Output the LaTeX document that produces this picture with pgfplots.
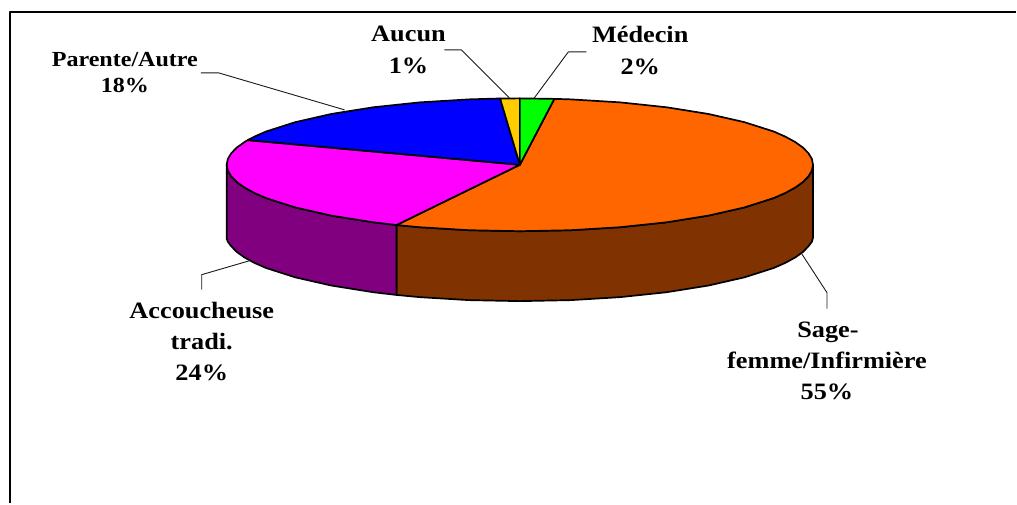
\documentclass[border=0pt]{standalone}
\usepackage{fontspec}
\setmainfont[FakeStretch=1.12]{Liberation Serif}
\usepackage{pgfplots}
\pgfplotsset{compat=1.18}
\definecolor{cgreen}{RGB}{0,255,0}
\definecolor{cyellow}{RGB}{255,204,0}
\definecolor{cblue}{RGB}{0,0,255}
\definecolor{cmag}{RGB}{255,0,255}
\definecolor{cpurple}{RGB}{128,0,128}
\definecolor{corange}{RGB}{255,102,0}
\definecolor{cbrown}{RGB}{128,51,0}
\newcommand{\lab}[1]{{\fontsize{23.5}{24}\selectfont\bfseries #1}}
\newcommand{\labs}[1]{{\fontsize{21.5}{24}\selectfont\bfseries #1}}
\tikzset{
  slice/.style={draw=black, line width=1.7pt},
  leader/.style={draw=black!90, line width=0.9pt},
  lbl/.style={anchor=base, inner sep=0pt, text=black}
}
\begin{document}
\begin{tikzpicture}
\begin{axis}[
  hide axis, scale only axis, width=1017pt, height=504pt,
  xmin=0, xmax=1017, ymin=0, ymax=504, y dir=reverse,
  enlargelimits=false, clip=false,
  every axis plot/.append style={mark=none, line join=round}
]
% page extent
\addplot[draw=none] coordinates {(0,0) (1017,504)};
% frame
\addplot[draw=black, line width=2.5pt, line cap=butt] coordinates {(10,504) (10,12) (1017,12)};
% side walls
\addplot[slice, fill=cbrown] coordinates {(814,165) (812.9,170.8) (809.5,176.5) (804,182.2) (796.3,187.7) (786.5,193.1) (774.7,198.3) (745.3,207.7) (709.2,215.9) (667.3,222.6) (620.9,227.5) (571.5,230.5) (520.5,231.5) (469.5,230.5) (420.1,227.5) (397,225.3)
 (397,295.3) (420.1,297.5) (469.5,300.5) (520.5,301.5) (571.5,300.5) (620.9,297.5) (667.3,292.6) (709.2,285.9) (745.3,277.7) (774.7,268.3) (786.5,263.1) (796.3,257.7) (804,252.2) (809.5,246.5) (812.9,242) (814,238)} --cycle;
\addplot[slice, fill=cpurple] coordinates {(397,225.3) (373.75,222.6) (331.8,215.9) (295.7,207.7) (266.3,198.3) (254.5,193.1) (244.7,187.7) (237,182.2) (231.5,176.5) (228.1,170.8) (227,165)
 (227,239) (228.1,242) (231.5,246.5) (237,252.2) (244.7,257.7) (254.5,263.1) (266.3,268.3) (295.7,277.7) (331.8,285.9) (373.75,292.6) (397,295.3)} --cycle;
% top slices
\addplot[slice, fill=corange] coordinates {(520.5,165) (555,99) (571.5,99.5) (620.9,102.5) (667.3,107.4) (709.2,114.1) (745.3,122.3) (774.7,131.7) (786.5,136.9) (796.3,142.3) (804,147.8) (809.5,153.5) (812.9,159.2) (814,165) (812.9,170.8) (809.5,176.5) (804,182.2) (796.3,187.7) (786.5,193.1) (774.7,198.3) (745.3,207.7) (709.2,215.9) (667.3,222.6) (620.9,227.5) (571.5,230.5) (520.5,231.5) (469.5,230.5) (420.1,227.5) (397,225.3)} --cycle;
\addplot[slice, fill=cmag] coordinates {(520.5,165) (397,225.3) (373.75,222.6) (331.8,215.9) (295.7,207.7) (266.3,198.3) (254.5,193.1) (244.7,187.7) (237,182.2) (231.5,176.5) (228.1,170.8) (227,165) (228.1,159.2) (231.5,153.5) (237,147.8) (244.7,142.3) (248,140.3)} --cycle;
\addplot[slice, fill=cblue] coordinates {(520.5,165) (248,140.3) (254.5,136.9) (266.3,131.7) (295.7,122.3) (331.8,114.1) (373.75,107.4) (420.1,102.5) (469.5,99.5) (500.7,98.6)} --cycle;
\addplot[slice, fill=cyellow] coordinates {(520.5,165) (500.7,98.6) (520.5,98.5)} --cycle;
\addplot[slice, fill=cgreen] coordinates {(520.5,165) (520.5,98.5) (555,99)} --cycle;
% leader lines
\addplot[leader] coordinates {(201,73) (219,73) (345,110)};
\addplot[leader] coordinates {(445,50) (462,50) (510,98)};
\addplot[leader] coordinates {(587,52) (569,52) (535,98)};
\addplot[leader] coordinates {(250,261) (202,275) (202,290)};
\addplot[leader] coordinates {(802,253) (828,293) (828,309)};
% labels
\node[lbl] at (axis cs:125,67) {\labs{Parente/Autre}};
\node[lbl] at (axis cs:125,93) {\labs{18\%}};
\node[lbl] at (axis cs:409,42) {\lab{Aucun}};
\node[lbl] at (axis cs:409,74) {\lab{1\%}};
\node[lbl] at (axis cs:641,43) {\lab{Médecin}};
\node[lbl] at (axis cs:641,75) {\lab{2\%}};
\node[lbl] at (axis cs:202,319) {\lab{Accoucheuse}};
\node[lbl] at (axis cs:202,350) {\lab{tradi.}};
\node[lbl] at (axis cs:202,381) {\lab{24\%}};
\node[lbl] at (axis cs:829,338) {\lab{Sage-}};
\node[lbl] at (axis cs:828,369) {\lab{femme/Infirmière}};
\node[lbl] at (axis cs:828,400) {\lab{55\%}};
\end{axis}
\end{tikzpicture}
\end{document}
